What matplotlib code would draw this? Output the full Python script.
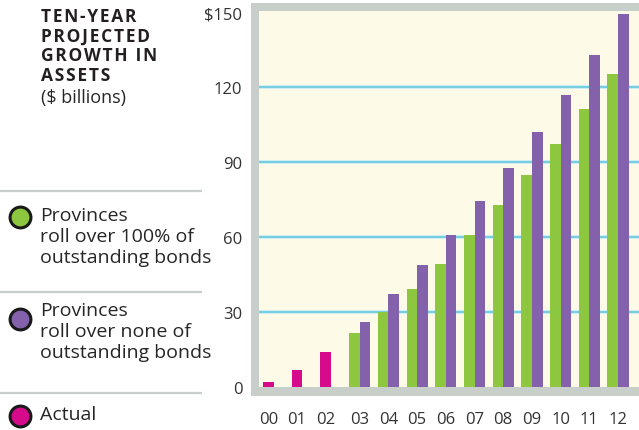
import matplotlib
matplotlib.use("Agg")
import matplotlib.pyplot as plt
from matplotlib.patches import Rectangle
import numpy as np

# data ($ billions)
years = ["00", "01", "02", "03", "04", "05", "06", "07", "08", "09", "10", "11", "12"]
actual = [2.2, 6.9, 14.1]
roll_100 = [21.7, 30.1, 39.3, 49.3, 61.0, 73.0, 85.0, 97.3, 111.3, 125.3]
roll_none = [26.1, 37.3, 48.9, 61.0, 74.5, 87.7, 102.1, 116.9, 132.9, 149.3]
yticks = [0, 30, 60, 90, 120, 150]
ytick_labels = ["0", "30", "60", "90", "120", "$150"]

title_lines = ["TEN-YEAR", "PROJECTED", "GROWTH IN", "ASSETS"]
unit = "($ billions)"
legend_items = [
    ("Provinces\nroll over 100% of\noutstanding bonds", "#8dc63f"),
    ("Provinces\nroll over none of\noutstanding bonds", "#8361ab"),
    ("Actual", "#d60b8c"),
]

PINK = "#d60b8c"
GREEN = "#8dc63f"
PURPLE = "#8361ab"
FRAME = "#c8cec9"
CREAM = "#fefae8"
GRID = "#6fcbe0"
TXT = "#262626"

plt.rcParams['font.family'] = ['Open Sans', 'DejaVu Sans']

W, H = 639, 431
fig = plt.figure(figsize=(W / 100, H / 100), dpi=100)

# grey frame behind the plot area
fig.patches.append(Rectangle((251 / W, (H - 396.5) / H), (W - 251) / W + 0.01, (396.5 - 4) / H,
                             transform=fig.transFigure, facecolor=FRAME, edgecolor="none", zorder=0))

ax = fig.add_axes([259 / W, (H - 388.3) / H, (W - 259) / W, (388.3 - 12) / H])
ax.set_zorder(2)
ax.set_facecolor(CREAM)
for s in ax.spines.values():
    s.set_visible(False)

w = 0.37
x = np.arange(len(years))
n_act = len(actual)
xa = x[:n_act] - w / 2
xp = x[n_act:]
ax.bar(xa, actual, width=w, color=PINK, zorder=3)
ax.bar(xp - w / 2, roll_100, width=w, color=GREEN, zorder=3)
ax.bar(xp + w / 2, roll_none, width=w, color=PURPLE, zorder=3)

for v in yticks[1:-1]:
    ax.axhline(v, color="#cdeef4", lw=2.8, zorder=1)
    ax.axhline(v, color=GRID, lw=1.3, zorder=2)

ax.set_xlim(-0.51, 12.73)
ax.set_ylim(0, 150.4)
ax.set_yticks(yticks)
ax.set_yticklabels(ytick_labels)
ax.set_xticks(list(xa) + list(xp))
ax.set_xticklabels(years)
ax.tick_params(axis="both", length=0, labelsize=12, labelcolor="#333333")
ax.tick_params(axis="y", pad=12)
ax.tick_params(axis="x", pad=17)

# left panel: title, unit, legend
ov = fig.add_axes([0, 0, 1, 1], facecolor="none")
ov.set_zorder(3)
ov.set_xlim(0, W)
ov.set_ylim(H, 0)
ov.axis("off")

# letter-spaced bold title
title = "\n".join("\u200a".join(line) for line in title_lines)
ov.text(41, 8, title, fontsize=12.5, fontweight="bold", color="#231f20",
        va="top", ha="left", linespacing=1.12)
ov.text(41, 89, unit, fontsize=13, color=TXT, va="top", ha="left")

for y in [192, 293, 394]:
    ov.plot([0, 202], [y, y], color=FRAME, lw=1.6, solid_capstyle="butt")

tops = [207, 302, 406]
dots = [218, 320, 417]
for (label, col), ty, dy in zip(legend_items, tops, dots):
    ov.plot([20], [dy], marker="o", ms=15, mfc=col, mec="#1a1a1a", mew=2.2, ls="none")
    ov.text(40, ty, label, fontsize=14, color=TXT, va="top", ha="left", linespacing=1.2)

fig.savefig("out.png", dpi=100)
